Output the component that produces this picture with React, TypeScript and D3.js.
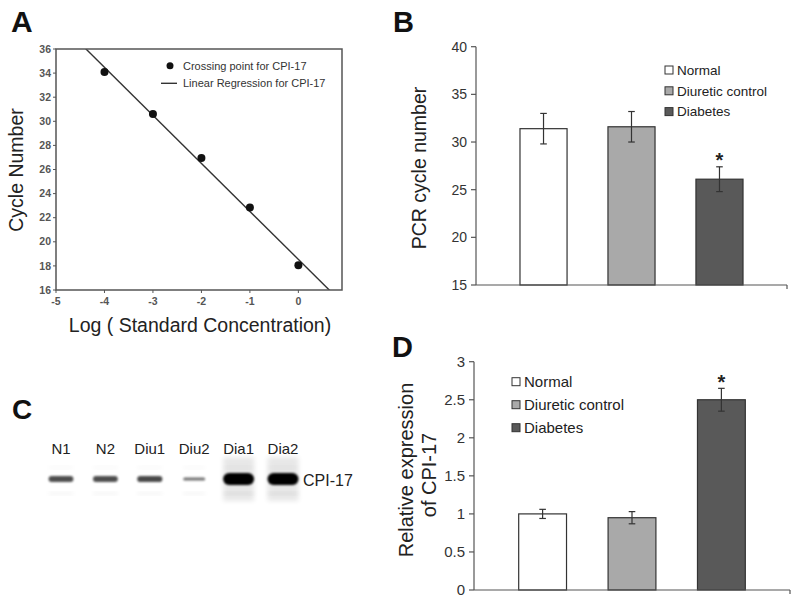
import React from "react";
import * as d3 from "d3";

// ---------- Panel A data ----------
const stdLogConc = [-4, -3, -2, -1, 0];
const crossingCycle = [34.1, 30.6, 26.95, 22.85, 18.05];
const aXTicks = [-5, -4, -3, -2, -1, 0];
const aYTicks = [16, 18, 20, 22, 24, 26, 28, 30, 32, 34, 36];

// ---------- Panels B & D data ----------
const groups = ["Normal", "Diuretic control", "Diabetes"];
const pcrMean = [31.4, 31.6, 26.1];
const pcrErr = [1.6, 1.6, 1.3];
const pcrSignificant = [false, false, true];
const bYTicks = [15, 20, 25, 30, 35, 40];

const relMean = [1.0, 0.95, 2.5];
const relErr = [0.06, 0.08, 0.15];
const relSignificant = [false, false, true];
const dYTicks = [0, 0.5, 1, 1.5, 2, 2.5, 3];

// ---------- Panel C data ----------
const lanes = ["N1", "N2", "Diu1", "Diu2", "Dia1", "Dia2"];
const bandDensity = [0.52, 0.52, 0.55, 0.3, 1.0, 1.0];

const FONT = "'Liberation Sans', Arial, Helvetica, sans-serif";
const groupFill = ["#ffffff", "#a9a9a9", "#595959"];

function PanelA() {
  const x = d3.scaleLinear().domain([-5, 0.9]).range([56, 342]);
  const y = d3.scaleLinear().domain([16, 36]).range([290, 49]);
  const mx = d3.mean(stdLogConc)!;
  const my = d3.mean(crossingCycle)!;
  const sxy = d3.sum(stdLogConc, (v, i) => (v - mx) * (crossingCycle[i] - my));
  const sxx = d3.sum(stdLogConc, (v) => (v - mx) ** 2);
  const slope = sxy / sxx;
  const icpt = my - slope * mx;
  const [x0, x1] = x.domain();
  const line = d3.line<number>().x((d) => x(d)).y((d) => y(icpt + slope * d));
  return (
    <g fontFamily={FONT}>
      <defs>
        <clipPath id="clipA">
          <rect x={56} y={49} width={286} height={241} />
        </clipPath>
      </defs>
      <text x={11} y={32} fontSize={30} fontWeight="bold" fill="#111">A</text>
      <path d={line([x0, x1])!} stroke="#333" strokeWidth={1.4} fill="none" clipPath="url(#clipA)" />
      {stdLogConc.map((v, i) => (
        <circle key={i} cx={x(v)} cy={y(crossingCycle[i])} r={4} fill="#111" />
      ))}
      <rect x={56} y={49} width={286} height={241} fill="none" stroke="#555" strokeWidth={1.5} />
      {aYTicks.map((t) => (
        <g key={t}>
          <line x1={53} x2={56} y1={y(t)} y2={y(t)} stroke="#555" strokeWidth={1} />
          <text x={51} y={y(t)} dy="0.35em" textAnchor="end" fontSize={10.5} fontWeight="bold" fill="#555">{t}</text>
        </g>
      ))}
      {aXTicks.map((t) => (
        <g key={t}>
          <line x1={x(t)} x2={x(t)} y1={290} y2={293} stroke="#555" strokeWidth={1} />
          <text x={x(t)} y={305} textAnchor="middle" fontSize={10.5} fontWeight="bold" fill="#555">{t}</text>
        </g>
      ))}
      <circle cx={170} cy={65.7} r={3.5} fill="#111" />
      <text x={183} y={69.5} fontSize={11} fill="#333">Crossing point for CPI-17</text>
      <line x1={161} x2={177} y1={83.3} y2={83.3} stroke="#333" strokeWidth={1.4} />
      <text x={183} y={87.3} fontSize={11} fill="#333">Linear Regression for CPI-17</text>
      <text transform="translate(23,170) rotate(-90)" textAnchor="middle" fontSize={19.5} fill="#222">Cycle Number</text>
      <text x={200} y={332} textAnchor="middle" fontSize={19.5} fill="#222">Log ( Standard Concentration)</text>
    </g>
  );
}

type BarProps = {
  label: string;
  labelX: number;
  labelY: number;
  means: number[];
  errs: number[];
  sig: boolean[];
  ticks: number[];
  domain: [number, number];
  yRange: [number, number];
  xRange: [number, number];
  tickFont: number;
  legendX: number;
  legendY: number;
  legendStep: number;
  legendFont: number;
  titleLines: { text: string; x: number; y: number }[];
  titleFont: number;
};

function BarPanel(p: BarProps) {
  const y = d3.scaleLinear().domain(p.domain).range(p.yRange);
  const x = d3.scaleBand<string>().domain(groups).range(p.xRange).paddingInner(0.465).paddingOuter(0.5);
  const ax = p.xRange[0];
  const base = p.yRange[0];
  return (
    <g fontFamily={FONT}>
      <text x={p.labelX} y={p.labelY} fontSize={29} fontWeight="bold" fill="#111">{p.label}</text>
      {groups.map((g, i) => {
        const cx = x(g)! + x.bandwidth() / 2;
        const top = y(p.means[i] + p.errs[i]);
        const bot = y(p.means[i] - p.errs[i]);
        return (
          <g key={g}>
            <rect x={x(g)} y={y(p.means[i])} width={x.bandwidth()} height={base - y(p.means[i])} fill={groupFill[i]} stroke="#333" strokeWidth={1.2} />
            <line x1={cx} x2={cx} y1={top} y2={bot} stroke="#333" strokeWidth={1.2} />
            <line x1={cx - 3.3} x2={cx + 3.3} y1={top} y2={top} stroke="#333" strokeWidth={1.2} />
            <line x1={cx - 3.3} x2={cx + 3.3} y1={bot} y2={bot} stroke="#333" strokeWidth={1.2} />
            {p.sig[i] && (
              <text x={cx} y={top - 11 + 11.5} textAnchor="middle" fontSize={20} fontWeight="bold" fill="#222">*</text>
            )}
          </g>
        );
      })}
      <line x1={ax} x2={ax} y1={p.yRange[1]} y2={base} stroke="#555" strokeWidth={1.2} />
      <line x1={ax} x2={p.xRange[1]} y1={base} y2={base} stroke="#555" strokeWidth={1.2} />
      <line x1={p.xRange[1]} x2={p.xRange[1]} y1={base} y2={base + 4} stroke="#555" strokeWidth={1.2} />
      {p.ticks.map((t) => (
        <g key={t}>
          <line x1={ax - 5} x2={ax} y1={y(t)} y2={y(t)} stroke="#555" strokeWidth={1.2} />
          <text x={ax - 9} y={y(t)} dy="0.36em" textAnchor="end" fontSize={p.tickFont} fill="#333">{t}</text>
        </g>
      ))}
      {groups.map((g, i) => {
        const cy = p.legendY + i * p.legendStep;
        return (
          <g key={g}>
            <rect x={p.legendX} y={cy - 4} width={8} height={8} fill={groupFill[i]} stroke="#333" strokeWidth={1} />
            <text x={p.legendX + 12} y={cy} dy="0.36em" fontSize={p.legendFont} fill="#222">{g}</text>
          </g>
        );
      })}
      {p.titleLines.map((l) => (
        <text key={l.text} transform={`translate(${l.x},${l.y}) rotate(-90)`} textAnchor="middle" fontSize={p.titleFont} fill="#222">{l.text}</text>
      ))}
    </g>
  );
}

function PanelC() {
  const lx = d3.scalePoint<string>().domain(lanes).range([61, 283]);
  const thick = d3.scaleLinear().domain([0.3, 1]).range([3, 12]);
  const wide = d3.scaleLinear().domain([0.3, 1]).range([22, 31]);
  const dark = d3.scaleLinear().domain([0.3, 1]).range([0.55, 1]);
  const bandY = 479;
  return (
    <g fontFamily={FONT}>
      <defs>
        <filter id="blurBand" x="-30%" y="-100%" width="160%" height="300%">
          <feGaussianBlur stdDeviation={1.1} />
        </filter>
        <filter id="blurSmear" x="-30%" y="-30%" width="160%" height="160%">
          <feGaussianBlur stdDeviation={2.5} />
        </filter>
      </defs>
      <text x={12} y={419} fontSize={28} fontWeight="bold" fill="#111">C</text>
      {lanes.map((l, i) => {
        const cx = lx(l)!;
        const w = wide(bandDensity[i]);
        const h = thick(bandDensity[i]);
        return (
          <g key={l}>
            <text x={cx} y={453.5} textAnchor="middle" fontSize={15} fill="#222">{l}</text>
            {bandDensity[i] > 0.9 && (
              <rect x={cx - w / 2} y={bandY - 22} width={w} height={44} fill="#000" opacity={0.09} filter="url(#blurSmear)" />
            )}
            <rect x={cx - w / 2} y={bandY - 7 - 6} width={w} height={3} fill="#000" opacity={0.03} filter="url(#blurSmear)" />
            <rect x={cx - w / 2} y={bandY + 13} width={w} height={3} fill="#000" opacity={0.05} filter="url(#blurSmear)" />
            <rect x={cx - w / 2} y={bandY - h / 2} width={w} height={h} rx={h / 2} fill="#000" opacity={dark(bandDensity[i])} filter="url(#blurBand)" />
          </g>
        );
      })}
      <text x={303} y={485.5} fontSize={16} fill="#222">CPI-17</text>
    </g>
  );
}

export default function App() {
  return (
    <svg width={800} height={605} style={{ position: "absolute", left: 0, top: 0, background: "#fff" }}>
      <rect width={800} height={605} fill="#fff" />
      <PanelA />
      <BarPanel
        label="B"
        labelX={393}
        labelY={32}
        means={pcrMean}
        errs={pcrErr}
        sig={pcrSignificant}
        ticks={bYTicks}
        domain={[15, 40]}
        yRange={[285, 46.7]}
        xRange={[476, 787]}
        tickFont={14}
        legendX={665}
        legendY={70}
        legendStep={20.8}
        legendFont={13.5}
        titleLines={[{ text: "PCR cycle number", x: 426, y: 168 }]}
        titleFont={19.5}
      />
      <PanelC />
      <BarPanel
        label="D"
        labelX={392}
        labelY={357}
        means={relMean}
        errs={relErr}
        sig={relSignificant}
        ticks={dYTicks}
        domain={[0, 3]}
        yRange={[590, 361.7]}
        xRange={[474, 790]}
        tickFont={15}
        legendX={512}
        legendY={381.7}
        legendStep={23}
        legendFont={15}
        titleLines={[
          { text: "Relative expression", x: 413, y: 470 },
          { text: "of CPI-17", x: 436, y: 475 },
        ]}
        titleFont={20}
      />
    </svg>
  );
}
